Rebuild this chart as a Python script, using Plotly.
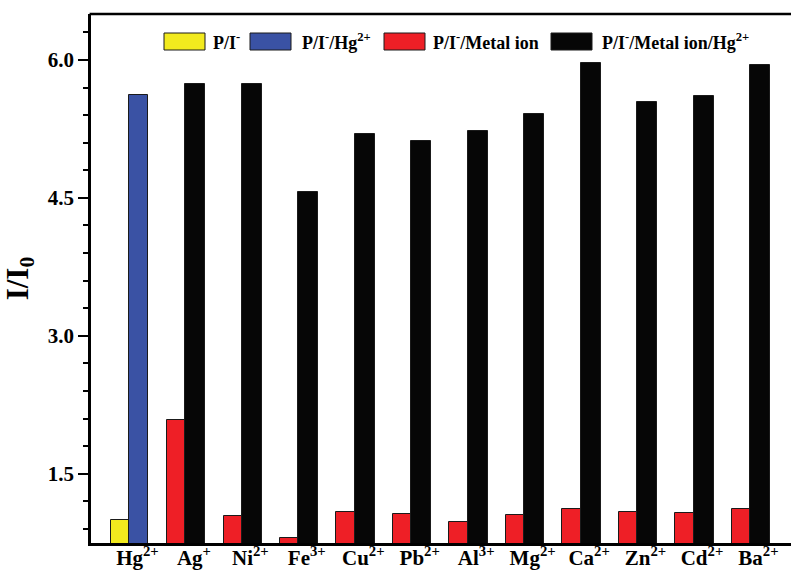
import plotly.graph_objects as go

# ---- data ----
categories = ["Hg2+", "Ag+", "Ni2+", "Fe3+", "Cu2+", "Pb2+", "Al3+", "Mg2+", "Ca2+", "Zn2+", "Cd2+", "Ba2+"]
tick_labels = ["Hg<sup>2+</sup>", "Ag<sup>+</sup>", "Ni<sup>2+</sup>", "Fe<sup>3+</sup>", "Cu<sup>2+</sup>",
               "Pb<sup>2+</sup>", "Al<sup>3+</sup>", "Mg<sup>2+</sup>", "Ca<sup>2+</sup>", "Zn<sup>2+</sup>",
               "Cd<sup>2+</sup>", "Ba<sup>2+</sup>"]
probe_only = [1.00]                      # P/I-  (Hg2+ group)
probe_hg = [5.62]                        # P/I-/Hg2+ (Hg2+ group)
metal_ion = [2.08, 1.04, 0.80, 1.08, 1.06, 0.98, 1.055, 1.12, 1.08, 1.07, 1.12]        # Ag+ ... Ba2+
metal_ion_hg = [5.74, 5.74, 4.56, 5.20, 5.12, 5.23, 5.41, 5.97, 5.54, 5.61, 5.95]      # Ag+ ... Ba2+
series_names = ["P/I<sup>-</sup>", "P/I<sup>-</sup>/Hg<sup>2+</sup>",
                "P/I<sup>-</sup>/Metal ion", "P/I<sup>-</sup>/Metal ion/Hg<sup>2+</sup>"]
series_colors = ["#F2EA1E", "#3A52A4", "#EE1F26", "#060606"]

idx = list(range(len(categories)))
FONT = "Liberation Serif"
outline = dict(color="#1a1a1a", width=1)

fig = go.Figure()
fig.add_trace(go.Bar(x=idx[:1], y=probe_only, name=series_names[0], width=0.325, offset=-0.325,
                     marker=dict(color=series_colors[0], line=outline)))
fig.add_trace(go.Bar(x=idx[:1], y=probe_hg, name=series_names[1], width=0.33, offset=0,
                     marker=dict(color=series_colors[1], line=outline)))
fig.add_trace(go.Bar(x=idx[1:], y=metal_ion, name=series_names[2], width=0.325, offset=-0.325,
                     marker=dict(color=series_colors[2], line=outline)))
fig.add_trace(go.Bar(x=idx[1:], y=metal_ion_hg, name=series_names[3], width=0.355, offset=0,
                     marker=dict(color=series_colors[3], line=outline)))

# ---- custom legend (wide swatches like the original) ----
W, H, L, B = 700, 529, 91, 36
def px(x):
    return (x - L) / W
def py(y):
    return (579 - B - y) / H

sw_left = [164, 250, 384, 551]
txt_left = [211, 300, 431, 600]
shapes, annotations = [], []
# top frame line (the original has no right frame line)
shapes.append(dict(type="line", xref="paper", yref="paper", x0=-0.002, x1=1.0, y0=1, y1=1,
                   line=dict(color="black", width=2.5)))
for i in range(4):
    shapes.append(dict(type="rect", xref="paper", yref="paper",
                       x0=px(sw_left[i]), x1=px(sw_left[i] + 41), y0=py(50), y1=py(33),
                       fillcolor=series_colors[i], line=dict(color="#1a1a1a", width=1)))
    annotations.append(dict(xref="paper", yref="paper", x=px(txt_left[i]), y=py(41),
                            xanchor="left", yanchor="middle", showarrow=False,
                            text="<b>" + series_names[i] + "</b>",
                            font=dict(family=FONT, size=18, color="black")))

fig.update_layout(
    width=791, height=579,
    margin=dict(l=L, r=0, t=14, b=B),
    paper_bgcolor="white", plot_bgcolor="white",
    barmode="overlay", bargap=0,
    showlegend=False,
    shapes=shapes, annotations=annotations,
    font=dict(family=FONT, color="black"),
)
fig.update_xaxes(
    range=[-0.673, 11.727],
    tickmode="array", tickvals=[i + 0.15 for i in idx],
    ticktext=["<b>" + t + "</b>" for t in tick_labels],
    tickfont=dict(family=FONT, size=21, color="black"),
    ticks="", showgrid=False, zeroline=False, ticklabelstandoff=-6,
    showline=True, linecolor="black", linewidth=2.5, mirror=False,
)
fig.update_yaxes(
    range=[0.747, 6.5],
    tick0=1.5, dtick=1.5, tickformat=".1f",
    ticks="outside", ticklen=10, tickwidth=2, tickcolor="black",
    minor=dict(dtick=0.3, tick0=1.5, ticks="outside", ticklen=5, tickwidth=2, tickcolor="black", showgrid=False),
    tickfont=dict(family=FONT, size=21, color="black", weight="bold"),
    showgrid=False, zeroline=False,
    showline=True, linecolor="black", linewidth=2.5, mirror=False,
    title=dict(text="<b>I/I<sub>0</sub></b>", font=dict(family=FONT, size=31, color="black"), standoff=14),
)

fig.write_html("out.html", config={"displayModeBar": False},
               post_script="document.body.style.margin='0';document.body.style.overflow='hidden';")
